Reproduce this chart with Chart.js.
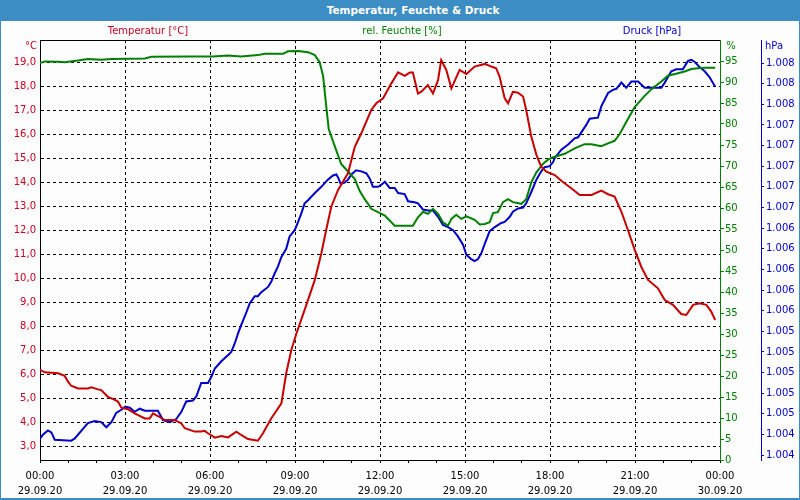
<!DOCTYPE html>
<html lang="de">
<head>
<meta charset="utf-8">
<title>Temperatur, Feuchte &amp; Druck</title>
<script src="https://cdn.jsdelivr.net/npm/chart.js@4.4.1/dist/chart.umd.min.js"></script>
<style>
  html, body { margin: 0; padding: 0; background: #fcfdfc; }
  #rahmen { position: relative; width: 800px; height: 500px; overflow: hidden; font-family: "DejaVu Sans", sans-serif; font-size: 10px; }
  #titel { position: absolute; left: 0; top: 0; width: 800px; height: 21px; background: #3c8dc4; color: #fff; font-weight: bold; font-size: 10.5px; }
  .txt { position: absolute; white-space: nowrap; transform: translate(-50%, -50%); line-height: 12px; }
  #kante { position: absolute; left: 0; top: 21px; width: 800px; height: 479px; box-sizing: border-box; border: solid #3c8dc4; border-width: 0 1px 2px 1px; pointer-events: none; }
  #grafik-box { position: absolute; left: 0; top: 0; width: 800px; height: 500px; }
</style>
</head>
<body>
<div id="rahmen">
  <div id="grafik-box"><canvas id="grafik"></canvas></div>
  <div id="titel"><span class="txt" style="left:413px; top:10px;">Temperatur, Feuchte &amp; Druck</span></div>
  <span class="txt" style="left:148px; top:31px; color:#c8001e;">Temperatur [°C]</span>
  <span class="txt" style="left:402px; top:31px; color:#008000;">rel. Feuchte [%]</span>
  <span class="txt" style="left:652px; top:31px; color:#0000cc;">Druck [hPa]</span>
  <span class="txt" style="left:31px; top:46px; color:#c8001e;">°C</span>
  <span class="txt" style="left:731px; top:46px; color:#008000;">%</span>
  <span class="txt" style="left:774px; top:46px; color:#0000cc;">hPa</span>
  <div id="kante"></div>
</div>
<script>
// Stunden ab 29.09.20 00:00
const tempZeit = [0,0.17,0.64,0.87,0.99,1.10,1.34,1.69,1.81,2.05,2.16,2.40,2.64,2.75,2.87,3.11,3.34,3.70,3.87,3.99,4.16,4.40,4.75,4.99,5.11,5.46,5.69,5.81,5.93,6.17,6.40,6.64,6.93,7.10,7.34,7.69,7.87,8.16,8.52,8.69,8.87,9.05,9.34,9.70,9.93,10.10,10.28,10.52,10.87,11.11,11.34,11.69,11.87,12.11,12.40,12.64,12.87,13.05,13.16,13.34,13.46,13.69,13.87,14.05,14.16,14.34,14.52,14.81,15.05,15.34,15.70,15.93,16.10,16.22,16.40,16.52,16.69,16.87,17.05,17.16,17.34,17.52,17.69,17.87,18.17,18.40,18.75,19.05,19.46,19.81,20.05,20.28,20.52,20.75,20.99,21.22,21.46,21.81,22.05,22.34,22.63,22.81,23.05,23.28,23.52,23.69,23.83];
const tempWerte = [6.17,6.07,6.03,5.92,5.68,5.51,5.40,5.40,5.45,5.36,5.33,5.05,4.92,4.85,4.60,4.53,4.36,4.15,4.15,4.36,4.25,4.08,4.08,3.94,3.74,3.60,3.60,3.63,3.53,3.35,3.42,3.36,3.60,3.46,3.29,3.22,3.53,4.15,4.78,6.03,7.00,7.69,8.67,9.92,11.03,12.00,12.97,13.67,14.36,15.47,16.03,17.00,17.28,17.49,18.11,18.57,18.42,18.56,18.56,17.69,17.76,18.04,17.69,18.25,19.08,18.67,17.90,18.67,18.50,18.81,18.92,18.81,18.74,18.39,17.49,17.28,17.76,17.72,17.56,17.00,15.89,15.13,14.64,14.43,14.29,14.05,13.74,13.46,13.46,13.64,13.49,13.39,12.76,12.00,11.17,10.47,9.92,9.57,9.08,8.88,8.50,8.46,8.88,8.95,8.88,8.60,8.25];

const feuchteZeit = [0,0.17,0.64,0.87,1.34,1.69,2.16,2.52,3.70,3.93,5.34,6.11,6.64,7.10,7.69,7.93,8.58,8.75,9.11,9.46,9.70,9.87,9.99,10.10,10.19,10.40,10.52,10.63,10.87,11.11,11.28,11.46,11.58,11.69,11.93,12.17,12.52,13.16,13.34,13.52,13.69,13.87,14.05,14.22,14.40,14.52,14.69,14.87,15.05,15.34,15.52,15.70,15.87,15.99,16.16,16.34,16.52,16.69,16.99,17.16,17.34,17.52,17.75,17.93,18.11,18.52,18.87,19.22,19.46,19.81,20.05,20.28,20.46,20.75,20.99,21.34,21.58,21.93,22.16,22.52,22.75,22.99,23.22,23.46,23.83];
const feuchteWerte = [94.5,94.9,94.8,94.7,95.1,95.5,95.3,95.5,95.6,96.0,96.1,96.1,96.3,96.1,96.4,96.7,96.7,97.3,97.4,97.1,96.4,94.7,91.5,84.4,78.8,74.8,72.5,70.5,68.7,66.9,64.1,62.1,61.0,59.8,59.0,58.2,55.8,55.8,57.8,59.1,58.6,59.8,58.6,56.6,55.8,57.4,58.4,57.4,58.0,57.2,56.1,56.2,56.6,58.8,59.0,61.4,62.1,61.4,61.0,62.1,66.1,68.5,70.5,71.5,72.1,72.9,74.2,75.2,75.2,74.7,75.4,76.0,77.6,81.2,84.0,86.7,88.3,90.1,91.5,92.1,92.5,93.1,93.3,93.4,93.4];

const druckZeit = [0,0.11,0.28,0.40,0.52,1.10,1.22,1.69,1.93,2.16,2.34,2.52,2.69,2.87,3.01,3.17,3.34,3.52,3.70,4.16,4.34,4.58,4.81,4.99,5.16,5.40,5.52,5.69,5.93,6.05,6.17,6.40,6.64,6.75,6.87,6.99,7.10,7.28,7.40,7.58,7.69,7.81,8.05,8.16,8.28,8.40,8.52,8.69,8.81,8.99,9.11,9.22,9.34,9.46,9.70,9.93,10.16,10.34,10.46,10.54,10.61,10.75,10.87,10.99,11.16,11.34,11.52,11.64,11.75,11.93,12.05,12.17,12.34,12.52,12.64,12.87,12.99,13.22,13.34,13.52,13.69,13.87,14.05,14.22,14.40,14.58,14.75,14.93,15.05,15.22,15.34,15.46,15.58,15.70,15.87,16.05,16.28,16.40,16.58,16.69,16.87,17.05,17.16,17.34,17.52,17.69,17.81,17.99,18.11,18.17,18.40,18.64,18.87,18.99,19.11,19.28,19.40,19.69,19.81,20.05,20.22,20.34,20.52,20.69,20.87,21.11,21.34,21.58,21.93,22.05,22.28,22.46,22.69,22.87,22.99,23.11,23.28,23.46,23.64,23.83];
const druckWerte = [1004.36,1004.40,1004.44,1004.42,1004.35,1004.34,1004.36,1004.51,1004.53,1004.52,1004.47,1004.52,1004.61,1004.64,1004.67,1004.66,1004.62,1004.65,1004.63,1004.63,1004.54,1004.52,1004.55,1004.62,1004.72,1004.73,1004.77,1004.90,1004.90,1004.96,1005.04,1005.11,1005.17,1005.20,1005.28,1005.38,1005.46,1005.58,1005.67,1005.74,1005.74,1005.78,1005.83,1005.88,1005.96,1006.03,1006.12,1006.20,1006.32,1006.38,1006.46,1006.54,1006.64,1006.67,1006.74,1006.80,1006.87,1006.91,1006.92,1006.88,1006.83,1006.84,1006.87,1006.92,1006.96,1006.95,1006.93,1006.88,1006.80,1006.80,1006.82,1006.85,1006.79,1006.79,1006.74,1006.73,1006.66,1006.65,1006.64,1006.58,1006.57,1006.57,1006.51,1006.43,1006.41,1006.38,1006.32,1006.24,1006.14,1006.10,1006.08,1006.10,1006.16,1006.25,1006.37,1006.41,1006.45,1006.46,1006.51,1006.56,1006.59,1006.60,1006.64,1006.75,1006.87,1006.95,1006.99,1007.00,1007.04,1007.08,1007.16,1007.21,1007.27,1007.28,1007.33,1007.40,1007.46,1007.47,1007.58,1007.71,1007.74,1007.75,1007.81,1007.76,1007.82,1007.82,1007.76,1007.76,1007.76,1007.81,1007.92,1007.94,1007.94,1008.02,1008.03,1008.01,1007.96,1007.92,1007.86,1007.77];

// Achsenbeschriftungen
const stunden = [0,1,2,3,4,5,6,7,8,9,10,11,12,13,14,15,16,17,18,19,20,21,22,23,24];
const tempTicks = [3,4,5,6,7,8,9,10,11,12,13,14,15,16,17,18,19];
const feuchteTicks = [0,5,10,15,20,25,30,35,40,45,50,55,60,65,70,75,80,85,90,95];
const druckTicks = [1004.2,1004.4,1004.6,1004.8,1005.0,1005.2,1005.4,1005.6,1005.8,1006.0,1006.2,1006.4,1006.6,1006.8,1007.0,1007.2,1007.4,1007.6,1007.8,1008.0];

const schrift = { family: '"DejaVu Sans", sans-serif', size: 10 };

function punkte(zeit, werte) {
    return zeit.map((t, i) => ({ x: t, y: werte[i] }));
}

function zeitLabel(v) {
    const h = v % 24;
    const datum = v >= 24 ? '30.09.20' : '29.09.20';
    return [String(h).padStart(2, '0') + ':00', datum];
}

function druckLabel(v) {
    const n = Math.round(v);
    return Math.floor(n / 1000) + '.' + String(n % 1000).padStart(3, '0');
}

function setzeTicks(werte) {
    return scale => { scale.ticks = werte.map(v => ({ value: v })); };
}

const linie = { pointRadius: 0, borderWidth: 2, tension: 0, fill: false };

new Chart(document.getElementById('grafik'), {
    type: 'line',
    data: {
        datasets: [
            { ...linie, label: 'Temperatur [°C]', data: punkte(tempZeit, tempWerte), borderColor: '#c80000', yAxisID: 'yT' },
            { ...linie, label: 'rel. Feuchte [%]', data: punkte(feuchteZeit, feuchteWerte), borderColor: '#008000', yAxisID: 'yH' },
            { ...linie, label: 'Druck [hPa]', data: punkte(druckZeit, druckWerte), borderColor: '#0000c8', yAxisID: 'yP' }
        ]
    },
    options: {
        animation: false,
        responsive: true,
        maintainAspectRatio: false,
        layout: { padding: 0 },
        plugins: { legend: { display: false }, tooltip: { enabled: false } },
        scales: {
            x: {
                type: 'linear', position: 'bottom', min: 0, max: 24,
                afterBuildTicks: setzeTicks(stunden),
                afterFit: s => { s.height = 40; },
                ticks: {
                    autoSkip: false, maxRotation: 0, color: '#000', padding: 6,
                    font: { ...schrift, lineHeight: 1.5 },
                    callback: v => (v % 3 === 0 ? zeitLabel(v) : '')
                },
                grid: {
                    color: c => (c.tick && c.tick.value % 3 === 0 && c.tick.value > 0 && c.tick.value < 24) ? '#000' : 'rgba(0,0,0,0)',
                    tickColor: '#000', tickLength: 3, lineWidth: 1
                },
                border: { color: '#000', width: 1, dash: [3, 3] }
            },
            xOben: {
                type: 'linear', position: 'top', min: 0, max: 24,
                afterFit: s => { s.height = 40; },
                ticks: { display: false },
                grid: { display: false, drawTicks: false },
                border: { color: '#000', width: 1 }
            },
            yT: {
                position: 'left', min: 2.4167, max: 19.9167,
                afterBuildTicks: setzeTicks(tempTicks),
                afterFit: s => { s.width = 40; },
                ticks: { color: '#c8001e', padding: 4, font: schrift, callback: v => v.toFixed(1).replace('.', ',') },
                grid: { color: '#000', drawTicks: false, lineWidth: 1 },
                border: { color: '#000', width: 1, dash: [3, 3] }
            },
            yH: {
                position: 'right', weight: 0, min: 0, max: 100,
                afterBuildTicks: setzeTicks(feuchteTicks),
                afterFit: s => { s.width = 41; },
                ticks: { color: '#008000', padding: 1, font: schrift },
                grid: { drawOnChartArea: false, color: '#008000', tickColor: '#008000', tickLength: 4 },
                border: { color: '#008000', width: 1 }
            },
            yP: {
                position: 'right', weight: 1, min: 1004.153, max: 1008.223,
                afterBuildTicks: setzeTicks(druckTicks),
                afterFit: s => { s.width = 39; },
                ticks: { color: '#0000cc', padding: 2, font: schrift, callback: druckLabel },
                grid: { drawOnChartArea: false, color: '#0000cc', tickColor: '#0000cc', tickLength: 3 },
                border: { color: '#0000cc', width: 1 }
            }
        }
    }
});
</script>
</body>
</html>
